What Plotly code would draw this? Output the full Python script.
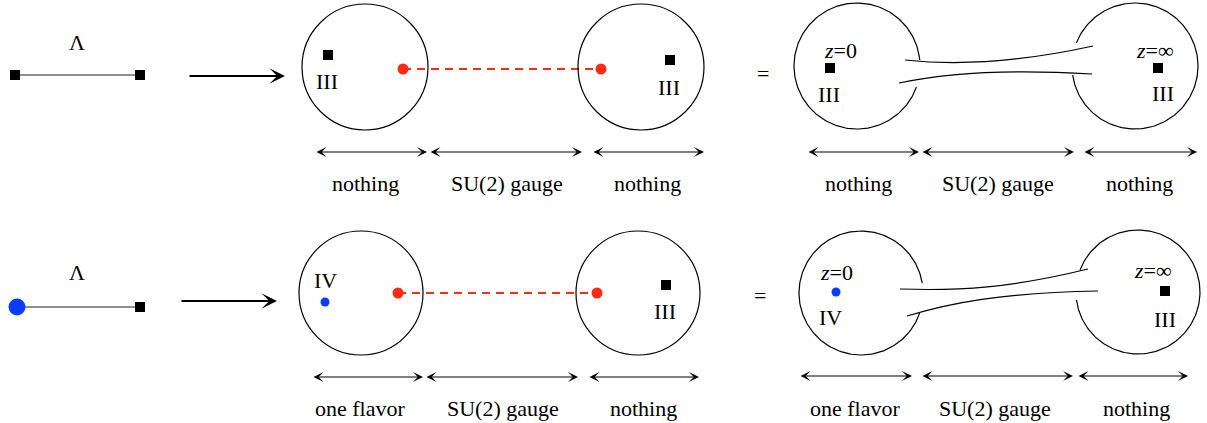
import numpy as np
import plotly.graph_objects as go

W, H = 1207, 423
FONT = "Liberation Serif"
RED = "#ff2a12"
BLUE = "#0a3cff"

# --- left sketches (one per row) ---
seg_x0 = [15, 17]
seg_x1 = [140, 140]
seg_y = [75, 307]
lambda_x = [77, 77]
lambda_y = [42, 272]
big_arrow_x0 = [188, 180]
big_arrow_x1 = [285, 277]
big_arrow_y = [76, 301]

# --- closed circles (middle block) ---
circ_cx = [365, 641, 361, 638]
circ_cy = [67, 67, 293, 293]
circ_r = [63, 63, 62, 62]

# red end points of the dashed line
red_x = [[403, 601], [398, 597]]
red_y = [69, 293]

# --- open circles (right block), gap given as side + y range ---
open_cx = [857, 1135, 861, 1138]
open_cy = [66, 66, 293, 292]
open_r = [63, 63, 62, 62]
gap_side = ["right", "left", "right", "left"]
gap_y0 = [60, 43, 283, 270]
gap_y1 = [87, 75, 313, 300]

# tube curves: start, control1, control2, end
tube_curves = [
    [(905, 60), (960, 66), (1020, 62), (1093, 46)],
    [(899, 83), (950, 72), (1010, 69), (1092, 74)],
    [(900, 289), (960, 291), (1010, 288), (1088, 269)],
    [(907, 316), (950, 303), (1000, 293), (1098, 291)],
]

# squares and blue dots
square_x = [15, 140, 328, 670, 830, 1158, 140, 666, 1165]
square_y = [75, 75, 55, 60, 68, 68, 307, 285, 291]
blue_x = [325, 836]
blue_y = [302, 292]

# range arrows and their labels
span_y = [152, 152, 377, 376]
span_x = [
    [(315, 427), (429, 582), (592, 704)],
    [(807, 919), (921, 1074), (1083, 1197)],
    [(312, 423), (425, 578), (588, 699)],
    [(799, 912), (921, 1073), (1077, 1188)],
]
span_label_y = [183, 183, 408, 408]
span_label_x = [
    [365, 507, 647],
    [858, 998, 1139],
    [360, 503, 643],
    [855, 995, 1136],
]
span_labels = [
    ["nothing", "SU(2) gauge", "nothing"],
    ["nothing", "SU(2) gauge", "nothing"],
    ["one flavor", "SU(2) gauge", "nothing"],
    ["one flavor", "SU(2) gauge", "nothing"],
]

# other text
text_items = [
    ("Λ", 77, 42), ("Λ", 77, 272),
    ("III", 327, 81), ("III", 669, 87),
    ("=", 763, 73), ("<i>z</i>=0", 840, 50), ("III", 829, 94),
    ("<i>z</i>=∞", 1155, 50), ("III", 1163, 93),
    ("IV", 325, 280), ("III", 665, 311),
    ("=", 760, 295), ("<i>z</i>=0", 836, 272), ("IV", 830, 317),
    ("<i>z</i>=∞", 1153, 270), ("III", 1165, 319),
]

fig = go.Figure()
shapes = []
annotations = []

# segments in left sketches
for x0, x1, y in zip(seg_x0, seg_x1, seg_y):
    fig.add_trace(go.Scatter(x=[x0, x1], y=[y, y], mode="lines",
                             line=dict(color="#222", width=1.2)))

# big blue node on second row
fig.add_trace(go.Scatter(x=[seg_x0[1]], y=[seg_y[1]], mode="markers",
                         marker=dict(color=BLUE, size=17)))

# closed circles
for cx, cy, r in zip(circ_cx, circ_cy, circ_r):
    shapes.append(dict(type="circle", xref="x", yref="y",
                       x0=cx - r, x1=cx + r, y0=cy - r, y1=cy + r,
                       line=dict(color="black", width=1.2)))

# dashed red lines with end points
for xs, y in zip(red_x, red_y):
    fig.add_trace(go.Scatter(x=xs, y=[y, y], mode="lines",
                             line=dict(color=RED, width=2, dash="8px,6px")))
    fig.add_trace(go.Scatter(x=xs, y=[y, y], mode="markers",
                             marker=dict(color=RED, size=11)))

# open circles, drawn as arcs leaving a gap for the tube
for cx, cy, r, side, g0, g1 in zip(open_cx, open_cy, open_r, gap_side, gap_y0, gap_y1):
    a0 = np.arcsin((g0 - cy) / r)
    a1 = np.arcsin((g1 - cy) / r)
    if side == "right":
        t = np.linspace(a1, a0 + 2 * np.pi, 200)
    else:
        t = np.linspace(np.pi - a0, np.pi - a1 + 2 * np.pi, 200)
    fig.add_trace(go.Scatter(x=cx + r * np.cos(t), y=cy + r * np.sin(t), mode="lines",
                             line=dict(color="black", width=1.2)))

# tube
for p in tube_curves:
    path = "M{},{} C{},{} {},{} {},{}".format(*p[0], *p[1], *p[2], *p[3])
    shapes.append(dict(type="path", xref="x", yref="y", path=path,
                       line=dict(color="black", width=1.2)))

# squares and blue dots
fig.add_trace(go.Scatter(x=square_x, y=square_y, mode="markers",
                         marker=dict(symbol="square", color="black", size=10)))
fig.add_trace(go.Scatter(x=blue_x, y=blue_y, mode="markers",
                         marker=dict(color=BLUE, size=9)))

# big arrows
for x0, x1, y in zip(big_arrow_x0, big_arrow_x1, big_arrow_y):
    annotations.append(dict(x=x1, y=y, ax=x0, ay=y, xref="x", yref="y",
                            axref="x", ayref="y", text="", showarrow=True,
                            arrowhead=3, arrowsize=1.3, arrowwidth=2,
                            arrowcolor="black"))

# range arrows + labels
for y, pairs, ly, lxs, labels in zip(span_y, span_x, span_label_y, span_label_x, span_labels):
    for (x0, x1) in pairs:
        annotations.append(dict(x=x1, y=y, ax=x0, ay=y, xref="x", yref="y",
                                axref="x", ayref="y", text="", showarrow=True,
                                arrowside="end+start", arrowhead=3, startarrowhead=3,
                                arrowsize=1.4, startarrowsize=1.4, arrowwidth=1.2,
                                arrowcolor="black"))
    for lx, lab in zip(lxs, labels):
        annotations.append(dict(x=lx, y=ly, xref="x", yref="y", text=lab,
                                showarrow=False, font=dict(family=FONT, size=22, color="black")))

for txt, x, y in text_items:
    annotations.append(dict(x=x, y=y, xref="x", yref="y", text=txt, showarrow=False,
                            font=dict(family=FONT, size=22, color="black")))

fig.update_layout(
    width=W, height=H,
    margin=dict(l=0, r=0, t=0, b=0),
    paper_bgcolor="white", plot_bgcolor="white",
    showlegend=False,
    shapes=shapes, annotations=annotations,
    xaxis=dict(range=[0, W], visible=False, fixedrange=True),
    yaxis=dict(range=[H, 0], visible=False, fixedrange=True),
)

# page body has a default 8px margin; remove it so the figure sits at 0,0
fig.write_html("out.html", config={"displayModeBar": False},
               post_script="document.body.style.margin='0';document.body.style.overflow='hidden';")
